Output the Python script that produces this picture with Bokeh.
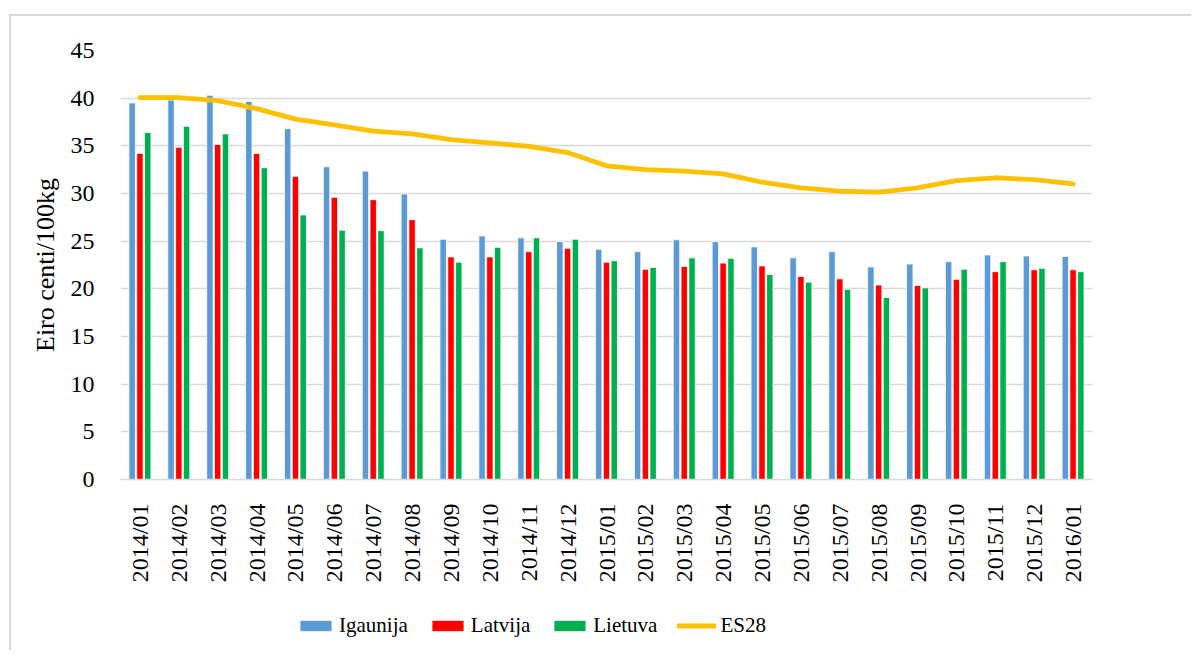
from bokeh.plotting import figure
from bokeh.layouts import column
from bokeh.models import (ColumnDataSource, FactorRange, Legend, LegendItem,
                          FixedTicker, Range1d)
from bokeh.transform import dodge
from bokeh.embed import file_html
from bokeh.resources import INLINE
import math

months = ["2014/01", "2014/02", "2014/03", "2014/04", "2014/05", "2014/06",
          "2014/07", "2014/08", "2014/09", "2014/10", "2014/11", "2014/12",
          "2015/01", "2015/02", "2015/03", "2015/04", "2015/05", "2015/06",
          "2015/07", "2015/08", "2015/09", "2015/10", "2015/11", "2015/12",
          "2016/01"]
igaunija = [39.5, 39.8, 40.3, 39.65, 36.8, 32.8, 32.35, 29.95, 25.2, 25.55,
            25.35, 24.95, 24.15, 23.9, 25.15, 24.95, 24.4, 23.25, 23.9, 22.3,
            22.6, 22.85, 23.55, 23.45, 23.4]
latvija = [34.2, 34.85, 35.15, 34.2, 31.8, 29.6, 29.35, 27.25, 23.35, 23.35,
           23.9, 24.25, 22.8, 22.05, 22.35, 22.7, 22.4, 21.3, 21.05, 20.4,
           20.35, 21.0, 21.8, 22.0, 22.0]
lietuva = [36.4, 37.05, 36.25, 32.7, 27.75, 26.15, 26.1, 24.3, 22.8, 24.35,
           25.35, 25.2, 22.95, 22.25, 23.25, 23.2, 21.5, 20.7, 19.95, 19.1,
           20.1, 22.05, 22.85, 22.15, 21.8]
es28 = [40.05, 40.05, 39.75, 38.9, 37.8, 37.2, 36.55, 36.25, 35.65, 35.3,
        34.95, 34.3, 32.9, 32.5, 32.35, 32.05, 31.2, 30.6, 30.25, 30.15,
        30.6, 31.35, 31.65, 31.45, 31.0]
y_ticks = [0, 5, 10, 15, 20, 25, 30, 35, 40, 45]
series = ["Igaunija", "Latvija", "Lietuva", "ES28"]
colors = ["#5B9BD5", "#FF0000", "#00B050", "#FFC000"]

FONT = "Liberation Serif"

source = ColumnDataSource(dict(month=months, ig=igaunija, lv=latvija,
                               lt=lietuva, es=es28))

p = figure(x_range=FactorRange(*months, range_padding=0), y_range=(0, 45),
           width=1180, height=584, output_backend="svg", toolbar_location=None,
           min_border_left=109, min_border_right=99, min_border_top=34,
           min_border_bottom=121)
p.outline_line_color = None
p.background_fill_color = "white"
p.border_fill_color = "white"

r_ig = p.vbar(x=dodge("month", -0.2, range=p.x_range), top="ig", width=0.165,
              source=source, fill_color=colors[0], line_color="white",
              line_width=0.8)
r_lv = p.vbar(x=dodge("month", 0.0, range=p.x_range), top="lv", width=0.165,
              source=source, fill_color=colors[1], line_color="white",
              line_width=0.8)
r_lt = p.vbar(x=dodge("month", 0.2, range=p.x_range), top="lt", width=0.165,
              source=source, fill_color=colors[2], line_color="white",
              line_width=0.8)
r_es = p.line(x="month", y="es", source=source, line_color=colors[3],
              line_width=4.8, line_join="round", line_cap="round")

p.yaxis.ticker = FixedTicker(ticks=y_ticks)
p.ygrid.grid_line_color = "#D9D9D9"
p.ygrid.grid_line_width = 1.5
p.xgrid.grid_line_color = None

p.yaxis.axis_line_color = None
p.yaxis.major_tick_line_color = None
p.yaxis.minor_tick_line_color = None
p.yaxis.major_label_standoff = 20
p.yaxis.major_label_text_font = FONT
p.yaxis.major_label_text_font_size = "24px"
p.yaxis.major_label_text_color = "black"
p.yaxis.axis_label = "Eiro centi/100kg"
p.yaxis.axis_label_text_font = FONT
p.yaxis.axis_label_text_font_size = "26px"
p.yaxis.axis_label_text_font_style = "normal"
p.yaxis.axis_label_text_color = "black"
p.yaxis.axis_label_standoff = 8

p.xaxis.axis_line_color = "#D9D9D9"
p.xaxis.axis_line_width = 1.5
p.xaxis.major_tick_line_color = None
p.xaxis.minor_tick_line_color = None
p.xaxis.major_label_orientation = math.pi / 2
p.xaxis.major_label_standoff = 18
p.xaxis.major_label_text_font = FONT
p.xaxis.major_label_text_font_size = "24px"
p.xaxis.major_label_text_color = "black"

# legend figure (holds only the legend; stand-in renderers sit off-screen)
lf = figure(width=1180, height=50, output_backend="svg", toolbar_location=None,
            x_axis_type=None, y_axis_type=None, x_range=Range1d(0, 1),
            y_range=Range1d(0, 1), min_border=0)
lf.outline_line_color = None
lf.grid.grid_line_color = None
standin = ColumnDataSource(dict(x=[-10], y=[-10]))
l_ig = lf.vbar(x="x", top="y", width=0.1, source=standin,
               fill_color=colors[0], line_color=None)
l_lv = lf.vbar(x="x", top="y", width=0.1, source=standin,
               fill_color=colors[1], line_color=None)
l_lt = lf.vbar(x="x", top="y", width=0.1, source=standin,
               fill_color=colors[2], line_color=None)
l_es = lf.line(x="x", y="y", source=standin, line_color=colors[3],
               line_width=4.8, line_cap="round")

legend = Legend(items=[LegendItem(label=series[0], renderers=[l_ig]),
                       LegendItem(label=series[1], renderers=[l_lv]),
                       LegendItem(label=series[2], renderers=[l_lt]),
                       LegendItem(label=series[3], renderers=[l_es])],
                orientation="horizontal", location=(176, 12),
                glyph_width=39, glyph_height=13, label_standoff=4, spacing=20,
                padding=0, margin=0, background_fill_alpha=0,
                border_line_color=None, label_text_font=FONT,
                label_text_font_size="21px", label_text_color="black")
lf.add_layout(legend, "center")

layout = column(p, lf, spacing=0)
layout.styles = {"border-left": "2px solid #D9D9D9",
                 "border-top": "2px solid #D9D9D9",
                 "margin-left": "9px", "margin-top": "14px"}

open("out.html", "w").write(file_html(layout, INLINE))
